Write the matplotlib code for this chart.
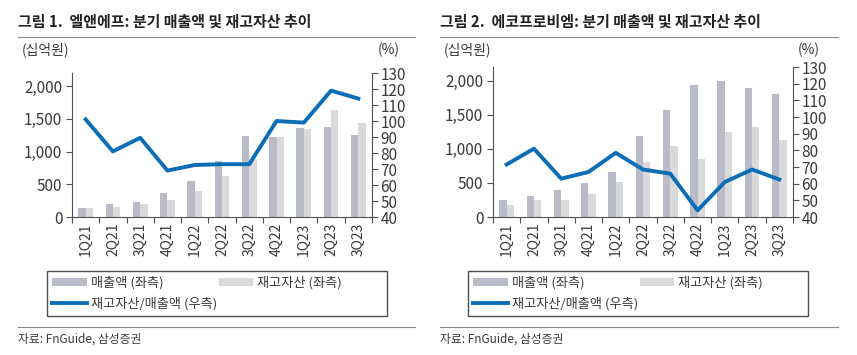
import numpy as np
import matplotlib
matplotlib.use('Agg')
import matplotlib.pyplot as plt
from matplotlib.lines import Line2D
from matplotlib.patches import Patch

plt.rcParams['font.family'] = ['Noto Sans CJK KR', 'DejaVu Sans']

quarters = ['1Q21', '2Q21', '3Q21', '4Q21', '1Q22', '2Q22', '3Q22', '4Q22', '1Q23', '2Q23', '3Q23']

# 엘앤에프
lnf_sales = [140, 196, 233, 372, 548, 858, 1241, 1225, 1360, 1370, 1256]
lnf_inventory = [140, 160, 202, 253, 393, 626, 880, 1225, 1344, 1634, 1437]
lnf_ratio = [101, 81, 89.5, 69, 72.5, 73, 73, 100, 99, 119, 114]

# 에코프로비엠
ecopro_sales = [254, 303, 401, 498, 660, 1193, 1564, 1939, 2000, 1895, 1797]
ecopro_inventory = [176, 244, 254, 332, 518, 811, 1036, 850, 1242, 1320, 1134]
ecopro_ratio = [71.5, 81, 63, 67, 78.5, 68.5, 66, 44, 61, 68.5, 62.5]

SALES_C = '#b9bbc8'
INV_C = '#dadada'
LINE_C = '#0b6db5'
TXT_C = '#3a3a3a'
AX_C = '#505050'

W, H = 857, 355
fig = plt.figure(figsize=(W / 100, H / 100), dpi=100)


def px(x0, y0, w, h):
    return [x0 / W, 1 - (y0 + h) / H, w / W, h / H]


def panel(rect, title, x_title, x_line0, x_line1, x_pct, legend_rect, sales, inv, ratio):
    ax = fig.add_axes(px(*rect))
    x = np.arange(len(quarters))
    bw = 0.27
    ax.bar(x - bw / 2, sales, width=bw, color=SALES_C, zorder=2)
    ax.bar(x + bw / 2, inv, width=bw, color=INV_C, zorder=2)
    ax.set_xlim(-0.5, len(quarters) - 0.5)
    ax.set_ylim(0, 2200)
    ax.set_yticks([0, 500, 1000, 1500, 2000])
    ax.set_yticklabels(['0', '500', '1,000', '1,500', '2,000'])
    ax.set_xticks(np.arange(len(quarters) + 1) - 0.5)
    ax.set_xticklabels([])
    ax.set_xticks(x, minor=True)
    ax.set_xticklabels(quarters, minor=True, rotation=90)
    ax.tick_params(axis='x', which='minor', length=0, pad=4, labelsize=10, colors=TXT_C)
    ax.tick_params(axis='x', which='major', length=4, color=AX_C)
    ax.tick_params(axis='y', length=4, color=AX_C, labelsize=11, labelcolor=TXT_C, pad=3)
    ax.spines['top'].set_visible(False)
    ax.spines['right'].set_visible(False)
    for s in ['left', 'bottom']:
        ax.spines[s].set_color(AX_C)
    ax.set_facecolor('none')

    ax2 = ax.twinx()
    ax2.plot(x, ratio, color=LINE_C, lw=2.8, zorder=3)
    ax2.set_ylim(40, 130)
    ax2.set_yticks(range(40, 131, 10))
    ax2.tick_params(axis='y', length=4, color=AX_C, labelsize=11, labelcolor=TXT_C, pad=2)
    ax2.spines['top'].set_visible(False)
    ax2.spines['left'].set_visible(False)
    ax2.spines['bottom'].set_visible(False)
    ax2.spines['right'].set_color(AX_C)

    fig.text(x_title / W, 1 - 22 / H, title, fontsize=10.8, fontweight='bold',
             color='#222222', va='center', ha='left')
    fig.add_artist(Line2D([x_line0 / W, x_line1 / W], [1 - 37 / H, 1 - 37 / H],
                          color='#888888', lw=0.8))
    fig.text((x_title + 4) / W, 1 - 50 / H, '(십억원)', fontsize=10, color=TXT_C,
             va='center', ha='left')
    fig.text(x_pct / W, 1 - 50 / H, '(%)', fontsize=10, color=TXT_C,
             va='center', ha='left')

    blank = Patch(facecolor='none', edgecolor='none')
    handles = [Patch(facecolor=SALES_C, edgecolor='none'),
               Line2D([0], [0], color=LINE_C, lw=2.8),
               Patch(facecolor=INV_C, edgecolor='none'),
               blank, blank]
    labels = ['매출액 (좌측)', '재고자산/매출액 (우측)', '재고자산 (좌측)', '', '']
    leg = fig.legend(handles, labels, ncol=3, loc='lower left',
                     bbox_to_anchor=px(*legend_rect), mode='expand',
                     fontsize=9.5, frameon=True, fancybox=False,
                     edgecolor='#222222', handlelength=2.6, handleheight=0.55,
                     handletextpad=0.3, borderaxespad=0, borderpad=0.4,
                     labelspacing=0.55, labelcolor=TXT_C)
    leg.get_frame().set_linewidth(1.0)

    fig.add_artist(Line2D([x_line0 / W, x_line1 / W], [1 - 327 / H, 1 - 327 / H],
                          color='#888888', lw=0.8))
    fig.text(x_title / W, 1 - 339 / H, '자료: FnGuide, 삼성증권', fontsize=8.5,
             color=TXT_C, va='center', ha='left')


panel((72, 73, 300, 144), '그림 1.  엘앤에프: 분기 매출액 및 재고자산 추이',
      18, 18, 415, 378, (47, 267, 340, 49),
      lnf_sales, lnf_inventory, lnf_ratio)
panel((493, 67, 300, 150), '그림 2.  에코프로비엠: 분기 매출액 및 재고자산 추이',
      440, 440, 838, 798, (468, 267, 340, 49),
      ecopro_sales, ecopro_inventory, ecopro_ratio)

fig.savefig('out.png', dpi=100)
